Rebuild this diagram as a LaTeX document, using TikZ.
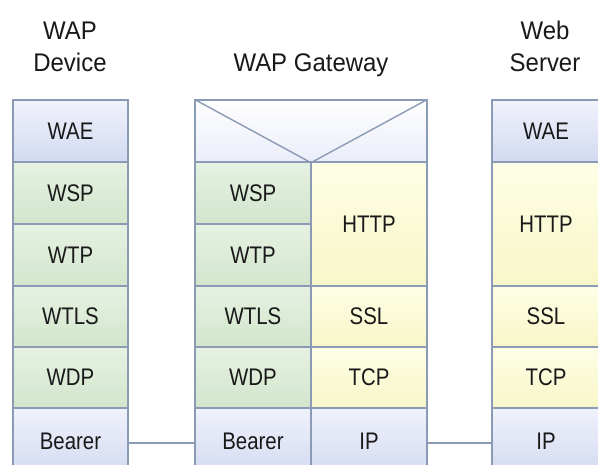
\documentclass[tikz,border=0pt]{standalone}
\usepackage{fontspec}
\setmainfont{Liberation Sans}[FakeStretch=0.94]
\newfontfamily\lblfont{Liberation Sans}[FakeStretch=0.85]
\begin{document}
\begin{tikzpicture}[x=1pt,y=-1pt,
  lay/.style={draw=bordc, line width=1.4pt, inner sep=0pt, font=\lblfont\fontsize{24}{28}\selectfont, text=black!90},
  bluebox/.style={lay, top color=blueA, bottom color=blueB},
  greenbox/.style={lay, top color=greenA, bottom color=greenB},
  yellowbox/.style={lay, top color=yellowA, bottom color=yellowB},
  hdr/.style={font=\fontsize{25.5}{32}\selectfont, align=center, text=black!90, inner sep=0pt},
  link/.style={draw=bordc, line width=2pt}
]
\definecolor{bordc}{HTML}{8C9BB5}
\definecolor{blueA}{HTML}{F0F2FB}
\definecolor{blueB}{HTML}{D3DAF1}
\definecolor{greenA}{HTML}{E6F1E2}
\definecolor{greenB}{HTML}{D2E6CC}
\definecolor{yellowA}{HTML}{FEFEE6}
\definecolor{yellowB}{HTML}{F8F6C8}
\useasboundingbox (0,0) rectangle (598,465);
\clip (0,0) rectangle (598,465);
\fill[white] (0,0) rectangle (598,465);

% headers
\node[hdr, anchor=base] (hdev) at (70,72) {WAP\\Device};
\node[hdr, anchor=base] (hgw) at (311,72) {WAP Gateway};
\node[hdr, anchor=base] (hsrv) at (545,72) {Web\\Server};

% WAP Device column (x 13..128)
\node[bluebox,  minimum width=115pt, minimum height=62pt] (dwae) at (70.5,131) {WAE};
\node[greenbox, minimum width=115pt, minimum height=62pt] (dwsp) at (70.5,193) {WSP};
\node[greenbox, minimum width=115pt, minimum height=62pt] (dwtp) at (70.5,255) {WTP};
\node[greenbox, minimum width=115pt, minimum height=61pt] (dwtls) at (70.5,316.5) {WTLS};
\node[greenbox, minimum width=115pt, minimum height=61pt] (dwdp) at (70.5,377.5) {WDP};
\node[bluebox,  minimum width=115pt, minimum height=67pt] (dbear) at (70.5,441.5) {Bearer};

% WAP Gateway column (x 195..427, split 311)
\node[lay, top color=white, bottom color=blueA!80!blueB, minimum width=232pt, minimum height=62pt] (gtop) at (311,131) {};
\draw[draw=bordc, line width=1.4pt] (gtop.north west) -- (gtop.south) -- (gtop.north east);
\node[greenbox, minimum width=116pt, minimum height=62pt] (gwsp) at (253,193) {WSP};
\node[greenbox, minimum width=116pt, minimum height=62pt] (gwtp) at (253,255) {WTP};
\node[greenbox, minimum width=116pt, minimum height=61pt] (gwtls) at (253,316.5) {WTLS};
\node[greenbox, minimum width=116pt, minimum height=61pt] (gwdp) at (253,377.5) {WDP};
\node[bluebox,  minimum width=116pt, minimum height=67pt] (gbear) at (253,441.5) {Bearer};
\node[yellowbox, minimum width=116pt, minimum height=124pt] (ghttp) at (369,224) {HTTP};
\node[yellowbox, minimum width=116pt, minimum height=61pt] (gssl) at (369,316.5) {SSL};
\node[yellowbox, minimum width=116pt, minimum height=61pt] (gtcp) at (369,377.5) {TCP};
\node[bluebox,   minimum width=116pt, minimum height=67pt] (gip) at (369,441.5) {IP};

% Web Server column (x 492..~600)
\node[bluebox,   minimum width=108pt, minimum height=62pt] (swae) at (546,131) {WAE};
\node[yellowbox, minimum width=108pt, minimum height=124pt] (shttp) at (546,224) {HTTP};
\node[yellowbox, minimum width=108pt, minimum height=61pt] (sssl) at (546,316.5) {SSL};
\node[yellowbox, minimum width=108pt, minimum height=61pt] (stcp) at (546,377.5) {TCP};
\node[bluebox,   minimum width=108pt, minimum height=67pt] (sip) at (546,441.5) {IP};

% links
\draw[link] (dbear.east |- 0,443) -- (gbear.west |- 0,443);
\draw[link] (gip.east |- 0,443) -- (sip.west |- 0,443);
\end{tikzpicture}
\end{document}
